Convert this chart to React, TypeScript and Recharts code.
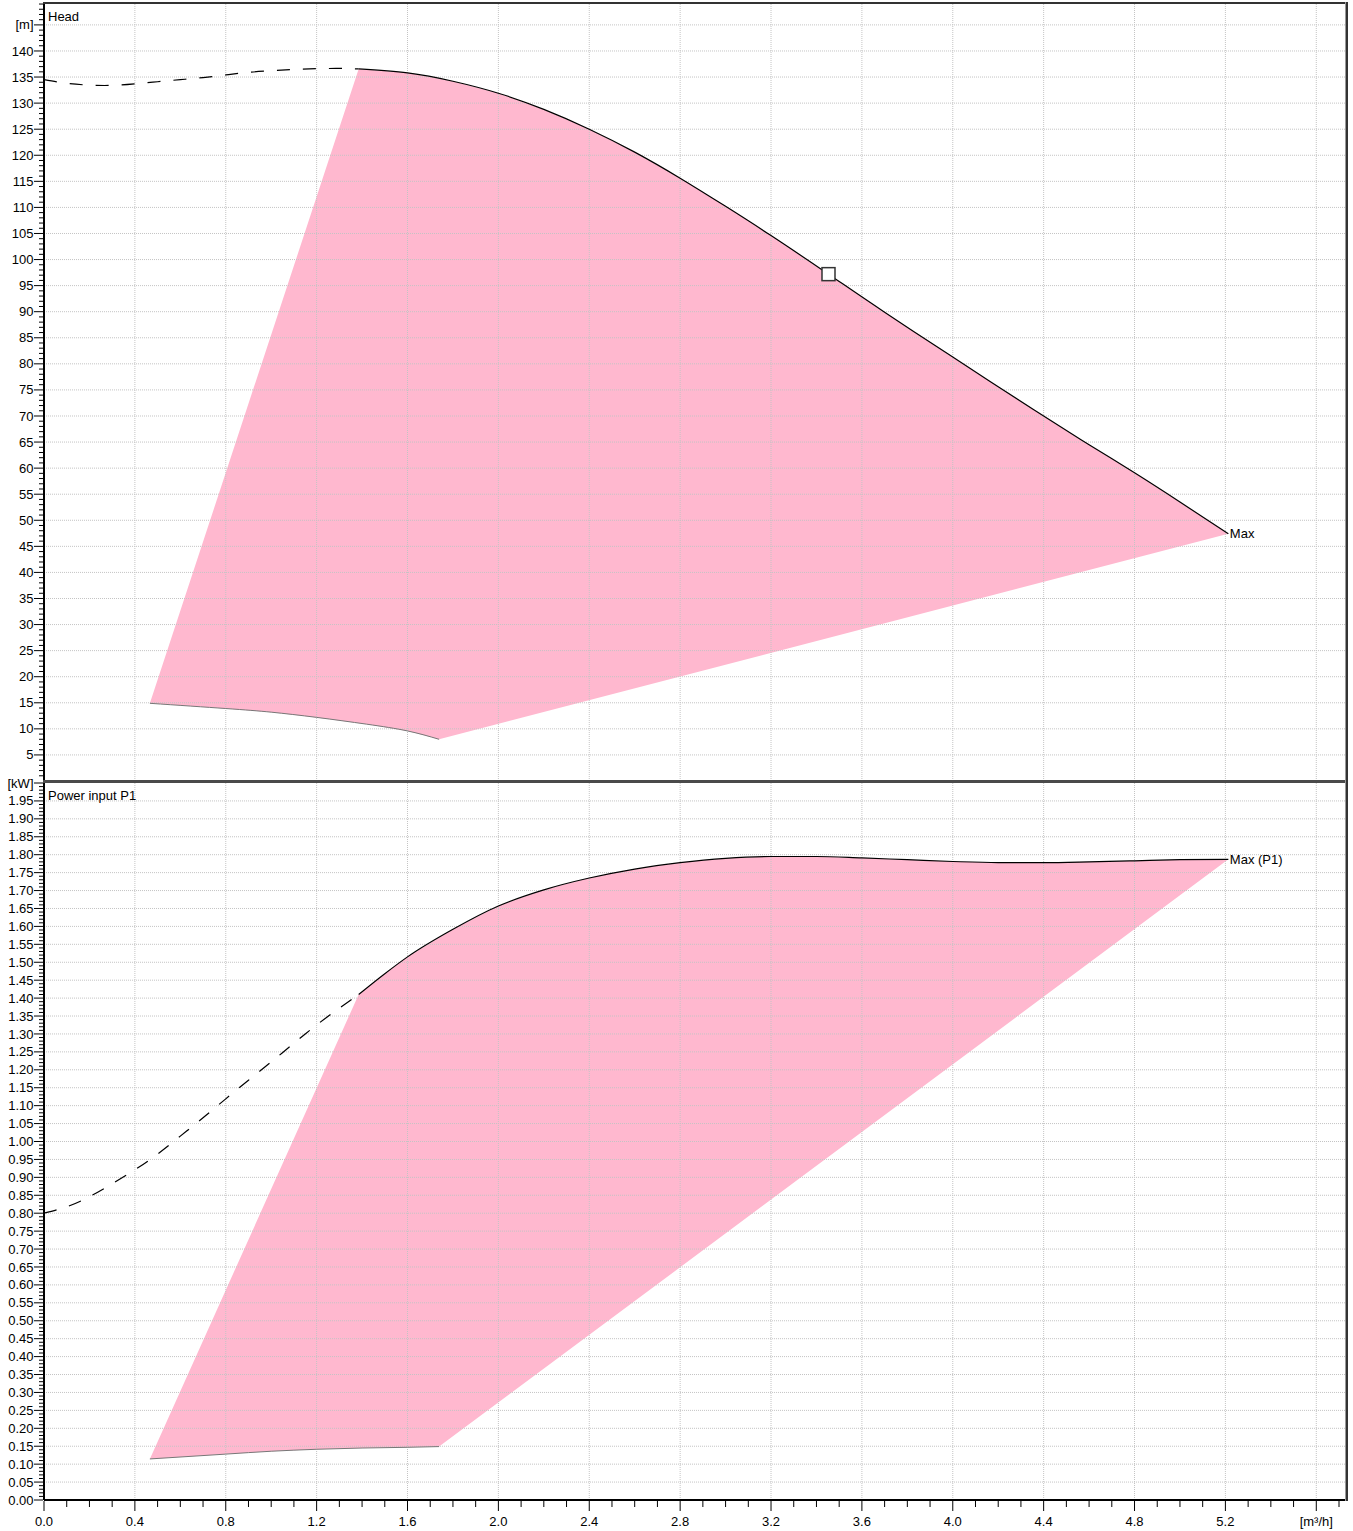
import React from 'react';
import { ComposedChart, Line, Area, Scatter, XAxis, YAxis, ReferenceLine } from 'recharts';

const FONT = '"Liberation Sans", Arial, Helvetica, sans-serif';
const PINK = '#FFB8CF';
const GRID = '#c4c4c4';
const X_MAX = 5.733;

// ---------------- Head [m] vs flow [m³/h] ----------------
const headDashedFlow = [0, 0.1, 0.2, 0.3, 0.4, 0.5, 0.6, 0.7, 0.8, 0.9, 1.0, 1.1, 1.2, 1.3, 1.385];
const headDashedHead = [134.5, 133.8, 133.45, 133.4, 133.7, 134.1, 134.5, 134.9, 135.4, 135.9, 136.2, 136.45, 136.6, 136.65, 136.55];

const headMaxFlow = [1.385, 1.6, 1.8, 2.0, 2.2, 2.4, 2.6, 2.8, 3.0, 3.2, 3.453, 3.7, 4.0, 4.2, 4.4, 4.6, 4.8, 5.0, 5.213];
const headMaxHead = [136.55, 135.8, 134.2, 131.9, 128.8, 125.0, 120.6, 115.6, 110.2, 104.6, 97.2, 89.9, 81.3, 75.6, 70.0, 64.5, 59.1, 53.5, 47.4];

const headMinFlow = [0.466, 0.8, 1.0, 1.2, 1.42, 1.6, 1.739];
const headMinHead = [14.9, 13.9, 13.2, 12.2, 10.9, 9.6, 8.0];

const dutyFlow = [3.453];
const dutyHead = [97.2];

// ---------------- Power input P1 [kW] ----------------
const powerDashedFlow = [0, 0.1, 0.2, 0.3, 0.4, 0.5, 0.6, 0.7, 0.8, 0.9, 1.0, 1.1, 1.2, 1.3, 1.385];
const powerDashedP1 = [0.8, 0.818, 0.846, 0.882, 0.921, 0.965, 1.015, 1.066, 1.119, 1.171, 1.222, 1.274, 1.325, 1.372, 1.41];

const powerMaxFlow = [1.385, 1.5, 1.6, 1.8, 2.0, 2.2, 2.4, 2.6, 2.8, 3.0, 3.2, 3.4, 3.6, 3.8, 4.0, 4.2, 4.4, 4.6, 4.8, 5.0, 5.213];
const powerMaxP1 = [1.41, 1.468, 1.515, 1.592, 1.657, 1.702, 1.735, 1.76, 1.778, 1.79, 1.795, 1.795, 1.791, 1.786, 1.781, 1.778, 1.778, 1.78, 1.783, 1.786, 1.787];

const powerMinFlow = [0.466, 0.8, 1.0, 1.2, 1.4, 1.6, 1.739];
const powerMinP1 = [0.1145, 0.128, 0.136, 0.1415, 0.145, 0.147, 0.149];

// ---------------- Tick labels ----------------
const flowTickLabels = [0, 0.4, 0.8, 1.2, 1.6, 2.0, 2.4, 2.8, 3.2, 3.6, 4.0, 4.4, 4.8, 5.2, 5.6];
const headTickLabels = [5, 10, 15, 20, 25, 30, 35, 40, 45, 50, 55, 60, 65, 70, 75, 80, 85, 90, 95, 100, 105, 110, 115, 120, 125, 130, 135, 140, 145];
const powerTickLabels = [0, 0.05, 0.1, 0.15, 0.2, 0.25, 0.3, 0.35, 0.4, 0.45, 0.5, 0.55, 0.6, 0.65, 0.7, 0.75, 0.8, 0.85, 0.9, 0.95, 1.0, 1.05, 1.1, 1.15, 1.2, 1.25, 1.3, 1.35, 1.4, 1.45, 1.5, 1.55, 1.6, 1.65, 1.7, 1.75, 1.8, 1.85, 1.9, 1.95, 2.0];

// minor tick positions (axis subdivision only)
const flowTicks = Array.from({ length: 58 }, (_, i) => i / 10);
const headTicks = Array.from({ length: 149 }, (_, i) => i + 1);
const powerTicks = Array.from({ length: 201 }, (_, i) => i / 100);

const zip = (q: number[], v: number[], extra: any = {}) => q.map((x, i) => ({ q: x, v: v[i], ...extra }));

const headDashed = zip(headDashedFlow, headDashedHead);
const headMax = zip(headMaxFlow, headMaxHead);
const headMin = zip(headMinFlow, headMinHead);
const headPolygon = [...headMax, ...headMin.slice().reverse(), headMax[0]];
const duty = zip(dutyFlow, dutyHead);
const headMaxLabel = [{ ...headMax[headMax.length - 1], label: 'Max' }];

const powerDashed = zip(powerDashedFlow, powerDashedP1);
const powerMax = zip(powerMaxFlow, powerMaxP1);
const powerMin = zip(powerMinFlow, powerMinP1);
const powerPolygon = [...powerMax, ...powerMin.slice().reverse(), powerMax[0]];
const powerMaxLabel = [{ ...powerMax[powerMax.length - 1], label: 'Max (P1)' }];

const isIn = (arr: number[], v: number) => arr.some((m) => Math.abs(m - v) < 1e-6);

const makeYTick = (majors: number[], fmt: (v: number) => string) => (props: any) => {
  const { x, y, payload } = props;
  const v = payload.value;
  const major = isIn(majors, v);
  return (
    <g>
      <line x1={x - (major ? 10 : 5)} x2={x - 1} y1={y} y2={y} stroke="#000" strokeWidth={1} />
      {major && (
        <text x={x - 10.5} y={y} dy="0.35em" textAnchor="end" fontSize={13} fontFamily={FONT} fill="#000">
          {fmt(v)}
        </text>
      )}
    </g>
  );
};

const flowTick = (props: any) => {
  const { x, y, payload } = props;
  const v = payload.value;
  const major = isIn(flowTickLabels, v);
  return (
    <g>
      <line x1={x} x2={x} y1={y + 1} y2={y + (major ? 11 : 7)} stroke="#000" strokeWidth={1} />
      {major && (
        <text x={x} y={y + 21} dy="0.35em" textAnchor="middle" fontSize={13} fontFamily={FONT} fill="#000">
          {Math.abs(v - 5.6) < 1e-6 ? '[m³/h]' : v.toFixed(1)}
        </text>
      )}
    </g>
  );
};

const headTick = makeYTick(headTickLabels, (v) => (v === 145 ? '[m]' : String(v)));
const powerTick = makeYTick(powerTickLabels, (v) => (Math.abs(v - 2) < 1e-6 ? '[kW]' : v.toFixed(2)));

const squareShape = (p: any) => (
  <rect x={p.cx - 6.5} y={p.cy - 6.5} width={13} height={13} fill="#fff" stroke="#333" strokeWidth={1.5} />
);
const labelShape = (p: any) => (
  <text x={p.cx + 1.5} y={p.cy} dy="0.35em" fontSize={13} fontFamily={FONT} fill="#000">
    {p.payload.label}
  </text>
);

const gridV = flowTickLabels.filter((v) => v > 0);
const gridHead = headTickLabels;
const gridPower = powerTickLabels.filter((v) => v > 0 && v < 2);

const vGrid = () =>
  gridV.map((v) => <ReferenceLine key={'vx' + v} x={v} stroke={GRID} strokeDasharray="1 1" strokeWidth={1} />);
const hGrid = (vals: number[]) =>
  vals.map((v) => <ReferenceLine key={'hy' + v} y={v} stroke={GRID} strokeDasharray="1 1" strokeWidth={1} />);

const overlay = (style: React.CSSProperties) => (
  <div style={{ position: 'absolute', pointerEvents: 'none', ...style }} />
);

export default function App() {
  return (
    <div style={{ position: 'absolute', left: 0, top: 0, width: 1353, height: 1531, background: '#fff', overflow: 'hidden', fontFamily: FONT }}>
      <div style={{ position: 'absolute', left: 0, top: 0 }}>
        <ComposedChart width={1353} height={781} margin={{ top: 3, right: 6.5, bottom: 0, left: 0 }}>
          <XAxis type="number" dataKey="q" domain={[0, X_MAX]} hide allowDataOverflow />
          <YAxis
            type="number"
            dataKey="v"
            domain={[0, 149.2]}
            width={44}
            ticks={headTicks}
            interval={0}
            tickSize={0}
            tickMargin={0}
            tickLine={false}
            axisLine={{ stroke: '#000', strokeWidth: 2 }}
            tick={headTick}
            allowDataOverflow
          />
          <Area data={headPolygon} dataKey="v" type="linear" fill={PINK} fillOpacity={1} stroke="none" isAnimationActive={false} />
          {vGrid()}
          {hGrid(gridHead)}
          <Line data={headDashed} dataKey="v" type="natural" stroke="#000" strokeWidth={1.2} strokeDasharray="13 13" dot={false} isAnimationActive={false} />
          <Line data={headMax} dataKey="v" type="natural" stroke="#000" strokeWidth={1.2} dot={false} isAnimationActive={false} />
          <Line data={headMin} dataKey="v" type="natural" stroke="#777" strokeWidth={1} dot={false} isAnimationActive={false} />
          <Scatter data={duty} dataKey="v" shape={squareShape} isAnimationActive={false} />
          <Scatter data={headMaxLabel} dataKey="v" shape={labelShape} isAnimationActive={false} />
        </ComposedChart>
      </div>
      <div style={{ position: 'absolute', left: 0, top: 771 }}>
        <ComposedChart width={1353} height={758} margin={{ top: 12, right: 6.5, bottom: 0, left: 0 }}>
          <XAxis
            type="number"
            dataKey="q"
            domain={[0, X_MAX]}
            height={29}
            ticks={flowTicks}
            interval={0}
            tickSize={0}
            tickMargin={0}
            tickLine={false}
            axisLine={{ stroke: '#000', strokeWidth: 2 }}
            tick={flowTick}
            allowDataOverflow
          />
          <YAxis
            type="number"
            dataKey="v"
            domain={[0, 2]}
            width={44}
            ticks={powerTicks}
            interval={0}
            tickSize={0}
            tickMargin={0}
            tickLine={false}
            axisLine={{ stroke: '#000', strokeWidth: 2 }}
            tick={powerTick}
            allowDataOverflow
          />
          <Area data={powerPolygon} dataKey="v" type="linear" fill={PINK} fillOpacity={1} stroke="none" isAnimationActive={false} />
          {vGrid()}
          {hGrid(gridPower)}
          <Line data={powerDashed} dataKey="v" type="natural" stroke="#000" strokeWidth={1.2} strokeDasharray="13 13" dot={false} isAnimationActive={false} />
          <Line data={powerMax} dataKey="v" type="monotone" stroke="#000" strokeWidth={1.2} dot={false} isAnimationActive={false} />
          <Line data={powerMin} dataKey="v" type="monotone" stroke="#777" strokeWidth={1} dot={false} isAnimationActive={false} />
          <Scatter data={powerMaxLabel} dataKey="v" shape={labelShape} isAnimationActive={false} />
        </ComposedChart>
      </div>
      {overlay({ left: 43, top: 2, width: 1305, height: 2, background: '#333' })}
      {overlay({ left: 43, top: 780, width: 1305, height: 3, background: '#4a4a4a' })}
      {overlay({ left: 1345, top: 2, width: 1, height: 1499, background: '#999' })}
      {overlay({ left: 1346, top: 2, width: 2, height: 1499, background: '#333' })}
      <div style={{ position: 'absolute', left: 48, top: 9, fontSize: 13, lineHeight: '15px', color: '#000' }}>Head</div>
      <div style={{ position: 'absolute', left: 48, top: 788, fontSize: 13, lineHeight: '15px', color: '#000' }}>Power input P1</div>
    </div>
  );
}
